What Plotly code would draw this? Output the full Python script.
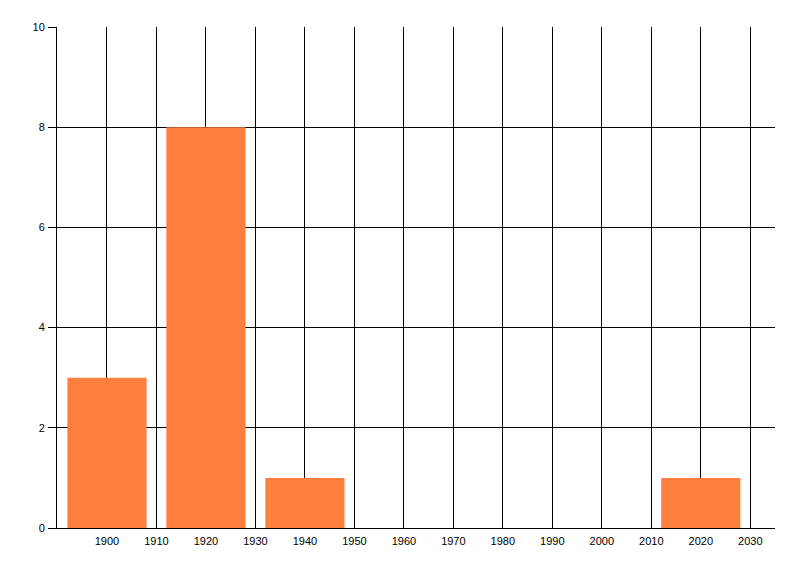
import plotly.graph_objects as go

years = [1900, 1920, 1940, 2020]
counts = [3, 8, 1, 1]
x_ticks = list(range(1900, 2031, 10))
y_ticks = [0, 2, 4, 6, 8, 10]

fig = go.Figure(go.Bar(x=years, y=counts, width=16, marker=dict(color="#FF7F3F", line=dict(width=0))))

fig.update_layout(
    width=800, height=576,
    margin=dict(l=57, r=25, t=27, b=48),
    plot_bgcolor="white", paper_bgcolor="white",
    showlegend=False,
    font=dict(family="Liberation Sans, Arial, sans-serif", size=11, color="black"),
)
fig.update_xaxes(
    range=[1889.9, 2035.0], tickvals=x_ticks, ticktext=[str(v) for v in x_ticks],
    showgrid=True, gridcolor="black", gridwidth=1,
    showline=True, linecolor="black", linewidth=1,
    ticks="", zeroline=False, ticklabelstandoff=3,
)
fig.update_yaxes(
    range=[0, 10], tickvals=y_ticks,
    showgrid=True, gridcolor="black", gridwidth=1,
    showline=True, linecolor="black", linewidth=1,
    ticks="outside", ticklen=8, tickcolor="black", tickwidth=1,
    zeroline=False, ticklabelstandoff=1,
)
fig.write_html(
    "out.html",
    config={"displayModeBar": False},
    post_script="document.body.style.margin='0';document.body.style.overflow='hidden';",
)
